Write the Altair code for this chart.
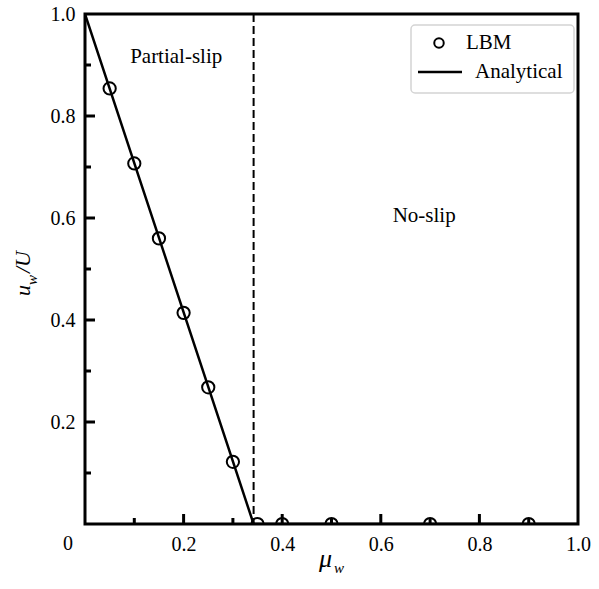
import altair as alt
import pandas as pd

# ---- data ----
lbm_mu = [0.05, 0.10, 0.15, 0.20, 0.25, 0.30, 0.35, 0.40, 0.50, 0.70, 0.90]
lbm_u = [0.854, 0.707, 0.560, 0.414, 0.268, 0.122, 0.0, 0.0, 0.0, 0.0, 0.0]
ana_mu = [0.0, 0.342, 1.0]
ana_u = [1.0, 0.0, 0.0]
crit_mu = [0.342]
major_ticks = [0.2, 0.4, 0.6, 0.8]
minor_ticks = [0.1, 0.3, 0.5, 0.7, 0.9]
region_labels = ["Partial-slip", "No-slip"]
region_mu = [0.185, 0.688]
region_u = [0.904, 0.592]

W, H = 493, 510
FONT = "'Liberation Serif', 'Times New Roman', Times, 'DejaVu Serif', serif"
FS = 20

lbm_df = pd.DataFrame({"mu": lbm_mu, "u": lbm_u})
ana_df = pd.DataFrame({"mu": ana_mu, "u": ana_u})
crit_df = pd.DataFrame({"mu": crit_mu})
maj_df = pd.DataFrame({"v": major_ticks})
min_df = pd.DataFrame({"v": minor_ticks})
reg_df = pd.DataFrame({"label": region_labels, "mu": region_mu, "u": region_u})

xs = alt.Scale(domain=[0, 1], nice=False, zero=False)
ys = alt.Scale(domain=[0, 1], nice=False, zero=False)

xaxis = alt.Axis(values=[0.2, 0.4, 0.6, 0.8, 1.0], format=".1f", title=None,
                 ticks=False, domain=False, grid=False, labelFlush=False,
                 labelPadding=10, labelOverlap=False, labelFont=FONT,
                 labelFontSize=FS, labelColor="black")
yaxis = alt.Axis(values=[0.2, 0.4, 0.6, 0.8, 1.0], format=".1f", title=None,
                 ticks=False, domain=False, grid=False, labelFlush=False,
                 labelPadding=10, labelOverlap=False, labelFont=FONT,
                 labelFontSize=FS, labelColor="black")

one = pd.DataFrame({"a": [0]})

legend_box = alt.Chart(one).mark_rect(fill="white", stroke="#d4d4d4", strokeWidth=1.5,
                                      cornerRadius=4).encode(
    x=alt.value(326), x2=alt.value(489), y=alt.value(11), y2=alt.value(79))

base_axes = alt.Chart(ana_df).mark_line(color="black", strokeWidth=2.5, clip=True).encode(
    x=alt.X("mu:Q", scale=xs, axis=xaxis),
    y=alt.Y("u:Q", scale=ys, axis=yaxis),
)

crit = alt.Chart(crit_df).mark_rule(color="black", strokeWidth=2, strokeDash=[8, 4]).encode(
    x=alt.X("mu:Q", scale=xs))

points = alt.Chart(lbm_df).mark_point(shape="circle", filled=False, color="black",
                                      strokeWidth=2, size=150, opacity=1, clip=True).encode(
    x=alt.X("mu:Q", scale=xs),
    y=alt.Y("u:Q", scale=ys),
)

xmaj = alt.Chart(maj_df).mark_rule(color="black", strokeWidth=3).encode(
    x=alt.X("v:Q", scale=xs), y=alt.value(H), y2=alt.value(H - 10))
xmin = alt.Chart(min_df).mark_rule(color="black", strokeWidth=3).encode(
    x=alt.X("v:Q", scale=xs), y=alt.value(H), y2=alt.value(H - 6))
ymaj = alt.Chart(maj_df).mark_rule(color="black", strokeWidth=3).encode(
    y=alt.Y("v:Q", scale=ys), x=alt.value(0), x2=alt.value(10))
ymin = alt.Chart(min_df).mark_rule(color="black", strokeWidth=3).encode(
    y=alt.Y("v:Q", scale=ys), x=alt.value(0), x2=alt.value(6))

regions = alt.Chart(reg_df).mark_text(font=FONT, fontSize=21, align="center",
                                      baseline="alphabetic", color="black").encode(
    x=alt.X("mu:Q", scale=xs), y=alt.Y("u:Q", scale=ys), text="label:N")

def txt(s, x, y, size=FS, align="left", baseline="alphabetic", style="normal", angle=0):
    return alt.Chart(one).mark_text(text=s, font=FONT, fontSize=size, align=align,
                                    baseline=baseline, fontStyle=style, angle=angle,
                                    color="black").encode(
        x=alt.value(x), y=alt.value(y))

# legend content
leg_pt = alt.Chart(one).mark_point(shape="circle", filled=False, color="black",
                                   strokeWidth=2, size=90, opacity=1).encode(
    x=alt.value(354), y=alt.value(29))
leg_line = alt.Chart(one).mark_rule(color="black", strokeWidth=2.5).encode(
    x=alt.value(333), x2=alt.value(377), y=alt.value(58))
leg_t1 = txt("LBM", 381, 29, size=21, baseline="middle")
leg_t2 = txt("Analytical", 390, 58, size=21, baseline="middle")

zero_lbl = txt("0", -17, H + 10, align="center", baseline="top")

# axis titles
xt1 = txt("μ", 234, 553, size=26, style="italic")
xt2 = txt("w", 249, 559, size=15, style="italic")
yt1 = txt("u", -55, 282, size=22, style="italic", angle=270)
yt2 = txt("w", -48, 271, size=15, style="italic", angle=270)
yt3 = txt("/U", -55, 259, size=22, style="italic", angle=270)

chart = alt.layer(
    legend_box, crit, base_axes, points, xmaj, xmin, ymaj, ymin, regions,
    leg_pt, leg_line, leg_t1, leg_t2, zero_lbl, xt1, xt2, yt1, yt2, yt3,
).properties(
    width=W, height=H,
    autosize=alt.AutoSizeParams(type="none"),
    padding={"left": 85, "top": 14, "right": 21, "bottom": 65},
).configure_view(
    stroke="black", strokeWidth=3
).configure_axis(
    labelFont=FONT, labelFontSize=FS, labelColor="black"
)

chart.save("out.html", embed_options={"renderer": "svg", "actions": False})
